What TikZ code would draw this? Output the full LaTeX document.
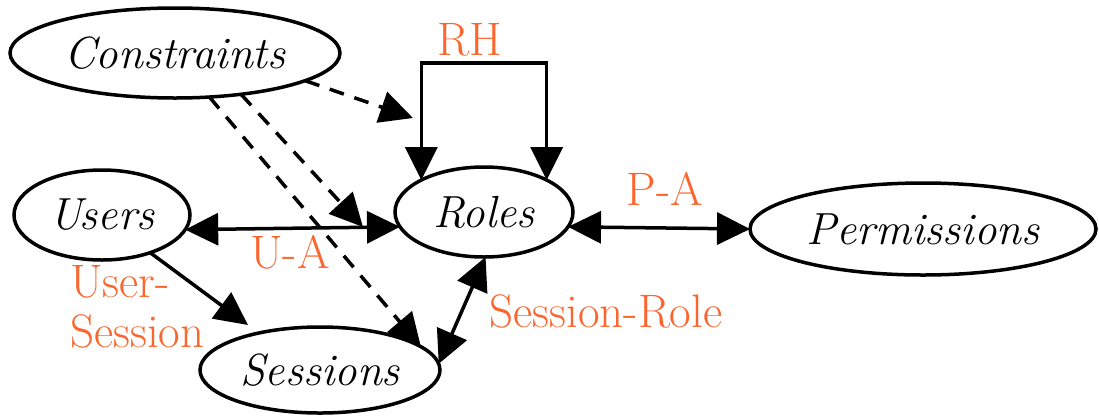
\documentclass[tikz,border=0pt]{standalone}
\usepackage{fontspec}
\usetikzlibrary{shapes.geometric,arrows.meta}
\definecolor{labelorange}{RGB}{250,102,45}
\begin{document}
\begin{tikzpicture}[x=1pt,y=-1pt,
  entity/.style={ellipse, draw, line width=3.5pt, inner sep=0pt, outer sep=0pt,
    font=\fontsize{45}{50}\selectfont\itshape},
  rel/.style={text=labelorange, inner sep=0pt, font=\fontsize{47}{50}\selectfont},
  link/.style={line width=3.5pt},
  tip/.style={-{Triangle[length=33pt,width=32pt]}},
  bitip/.style={{Triangle[length=33pt,width=32pt]}-{Triangle[length=33pt,width=32pt]}},
  constraint/.style={line width=3.5pt, dash pattern=on 15pt off 11pt,
    -{Triangle[length=33pt,width=32pt]}}
]
\path[use as bounding box] (0,0) rectangle (1099,416);

% entities
\node[entity, minimum width=330pt, minimum height=90pt] (constraints) at (175,53) {Constraints};
\node[entity, minimum width=176pt, minimum height=90pt] (users) at (102,215) {Users};
\node[entity, minimum width=178pt, minimum height=90pt] (roles) at (484,212) {Roles};
\node[entity, minimum width=346pt, minimum height=92pt] (permissions) at (923,229) {Permissions};
\node[entity, minimum width=240pt, minimum height=86pt] (sessions) at (320,370) {Sessions};

% relation labels
\node[rel, anchor=base] (rh) at (470,55) {RH};
\node[rel, anchor=base] (ua) at (290,268) {U-A};
\node[rel, anchor=base] (pa) at (665,205) {P-A};
\node[rel, anchor=base] (sr) at (606,327) {Session-Role};
\node[rel, anchor=north west, align=left] (us) at (70,265) {User-\\Session};

% free ends and bend point
\coordinate (rhtop) at (484,63);
\coordinate (toRH) at (413,118);
\coordinate (toRoles) at (363,227);
\coordinate (toSess) at (248,325);

% relations
\draw[link,bitip] (users.-10) -- (roles.190);
\draw[link,bitip] (roles.-10) -- (permissions.west);
\draw[link,bitip] (roles.153) |- (rhtop) -| (roles.27);
\draw[link,tip] (users.-38) -- (toSess);
\draw[link,bitip] (sessions.3) -- (roles.-88);

% constraints
\draw[constraint] (constraints.-12) -- (toRH);
\draw[constraint] (constraints.-32) -- (toRoles);
\draw[constraint] (constraints.-52) -- (sessions.13);
\end{tikzpicture}
\end{document}
